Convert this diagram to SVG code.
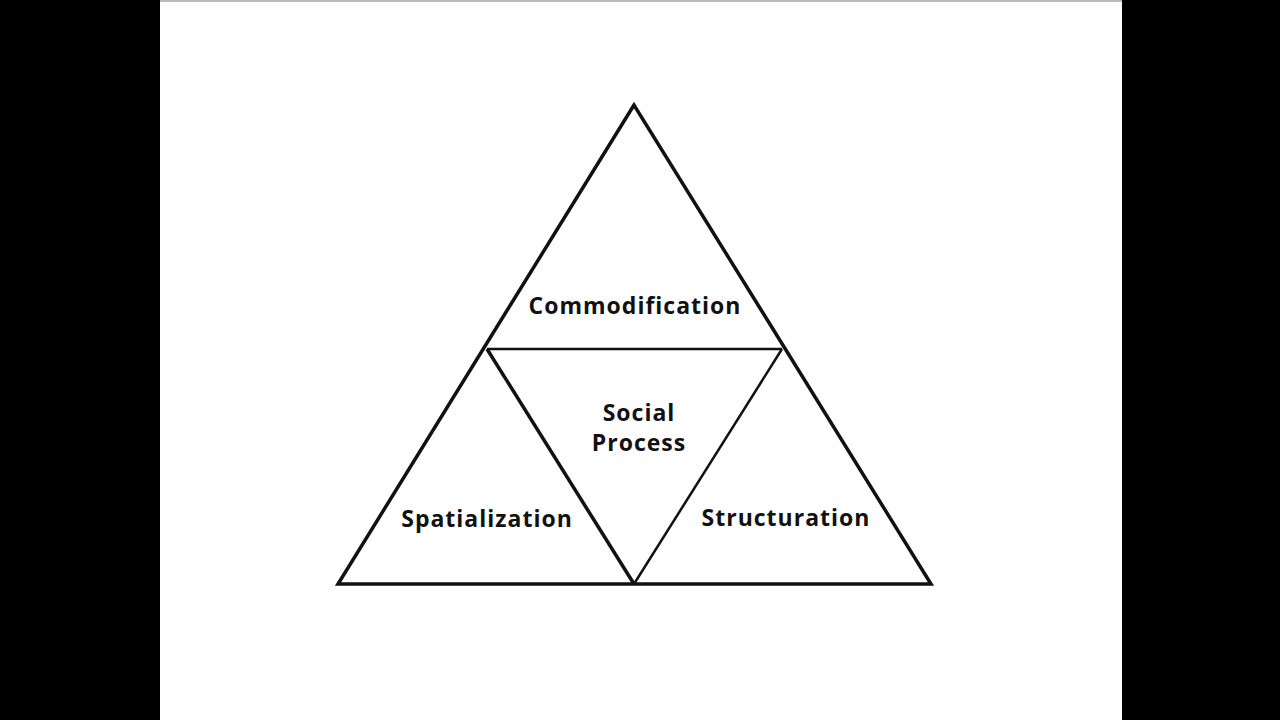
<svg xmlns="http://www.w3.org/2000/svg" width="1280" height="720" viewBox="0 0 1280 720">
<style>
.t{font-family:"Open Sans","Liberation Sans",sans-serif;font-weight:700;font-size:23px;letter-spacing:1px;fill:#111;text-anchor:middle}
.e{stroke:#111;fill:none;stroke-linejoin:miter}
</style>
<rect width="1280" height="720" fill="#fff"/>
<rect x="0" y="0" width="160" height="720" fill="#000"/>
<rect x="1122" y="0" width="158" height="720" fill="#000"/>
<rect x="160" y="0" width="962" height="2" fill="#bbb"/>
<g id="connectors">
<polygon class="e" points="634,105 338,584 931,584" stroke-width="3.5"/>
<line class="e" x1="487" y1="349" x2="782" y2="349" stroke-width="2.5"/>
<line class="e" x1="487" y1="349" x2="634" y2="584" stroke-width="3.5"/>
<line class="e" x1="782" y1="349" x2="634" y2="584" stroke-width="2.5"/>
</g>
<g id="commodification"><text class="t" x="635" y="314">Commodification</text></g>
<g id="social"><text class="t" x="639" y="421">Social</text><text class="t" x="639" y="451">Process</text></g>
<g id="spatialization"><text class="t" x="487" y="527">Spatialization</text></g>
<g id="structuration"><text class="t" x="786" y="526">Structuration</text></g>
</svg>
